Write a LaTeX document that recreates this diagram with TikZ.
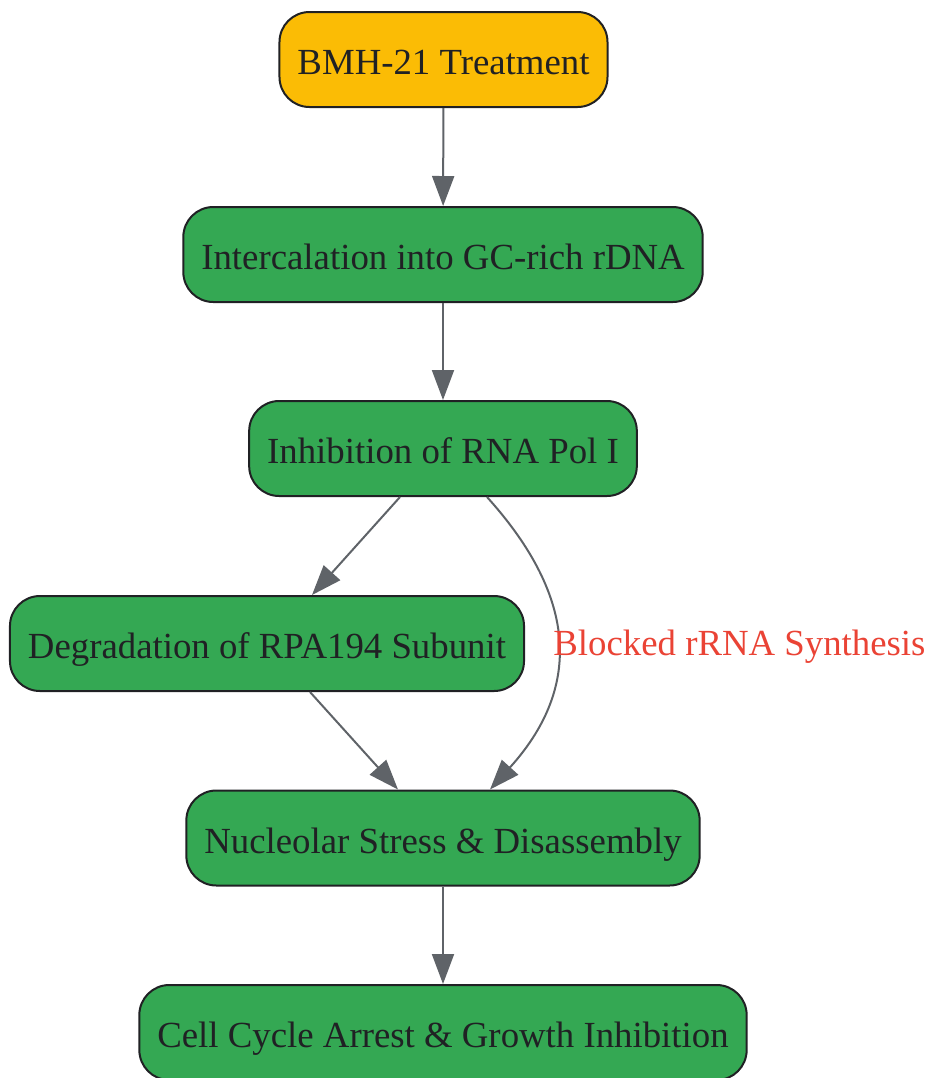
\documentclass[tikz,border=0pt]{standalone}
\usepackage{fontspec}
\setmainfont{Liberation Serif}
\usepackage{xcolor}
\usetikzlibrary{arrows.meta}
\definecolor{stepyellow}{HTML}{FBBC05}
\definecolor{stepgreen}{HTML}{34A853}
\definecolor{edgegray}{HTML}{5F6368}
\definecolor{inkdark}{HTML}{202124}
\definecolor{labelred}{HTML}{EA4335}
\tikzset{box/.style={draw=inkdark, line width=1pt, rounded corners=15pt,
   minimum height=47.5pt, inner xsep=9pt, text=inkdark,
   text height=17pt, text depth=2pt,
   font=\fontsize{18.4}{22}\selectfont},
 startbox/.style={box, fill=stepyellow},
 greenbox/.style={box, fill=stepgreen},
 flow/.style={draw=edgegray, line width=1pt, -{Triangle[length=15pt,width=11pt]}},
 }

\begin{document}
\begin{tikzpicture}[x=0.5pt, y=-0.5pt]
        \useasboundingbox (0, 0) rectangle (929, 1078);
        \node[startbox] (bmh) at (443.5, 59.5) {BMH-21 Treatment};
        \node[greenbox] (inter) at (443, 254.5) {Intercalation into GC-rich rDNA};
        \node[greenbox] (inhib) at (443, 448.5) {Inhibition of RNA Pol I};
        \node[greenbox] (degr) at (267, 643.5) {Degradation of RPA194 Subunit};
        \node[greenbox] (nucl) at (443, 838) {Nucleolar Stress \& Disassembly};
        \node[greenbox] (cell) at (443, 1032.5) {Cell Cycle Arrest \& Growth Inhibition};
        \draw[flow] (bmh) -- (inter);
        \draw[flow] (inter) -- (inhib);
        \draw[flow] ([xshift=-21.5pt]inhib.south) -- ([xshift=22.5pt]degr.north);
        \draw[flow] ([xshift=21.5pt]degr.south) -- ([xshift=-22.5pt]nucl.north);
        \draw[flow] ([xshift=22pt]inhib.south) .. controls (580, 600) and (580, 690) .. ([xshift=23.5pt]nucl.north);
        \node[anchor=west, text=labelred, font=\fontsize{18.4}{22}\selectfont, inner sep=0pt] (blocked) at (553, 647) {Blocked rRNA Synthesis};
        \draw[flow] (nucl) -- (cell);
    \end{tikzpicture}
\end{document}
